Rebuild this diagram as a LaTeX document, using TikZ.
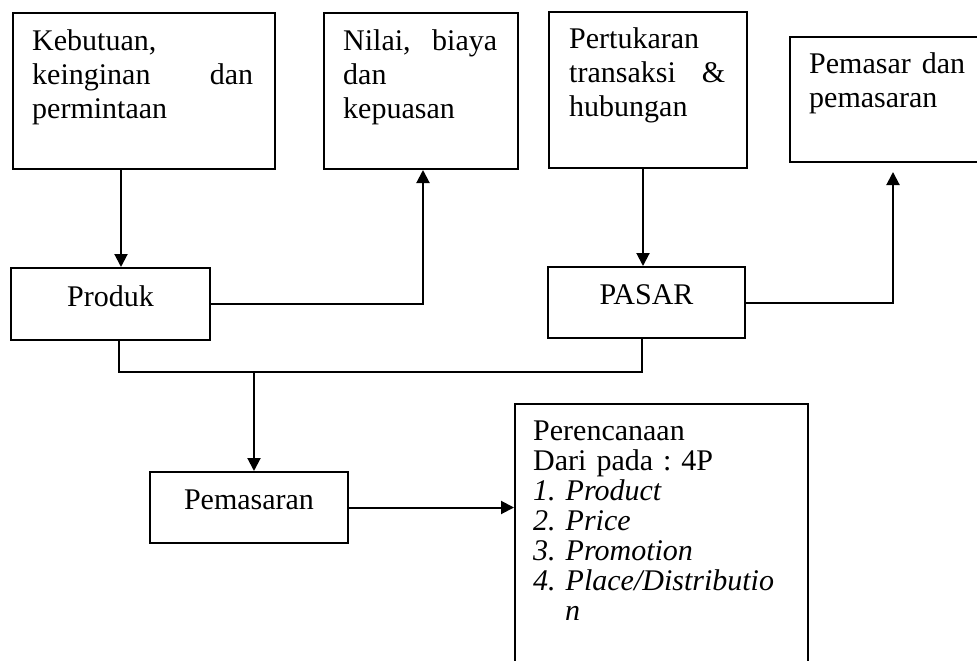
\documentclass[tikz,border=0pt]{standalone}
\usepackage{fontspec}
\setmainfont{Liberation Serif}
\usetikzlibrary{arrows.meta}
\frenchspacing
\begin{document}
\begin{tikzpicture}[x=1pt,y=-1pt,
  box/.style={draw, line width=2pt, rectangle, inner sep=0pt, anchor=north west},
  txt/.style={inner sep=0pt, anchor=north west, align=left, font=\fontsize{30}{34}\selectfont\frenchspacing},
  lbl/.style={box, font=\fontsize{30}{34}\selectfont, text height=21pt, text depth=17pt},
  conn/.style={line width=2pt},
  arr/.style={conn, -{Triangle[length=13pt,width=13pt]}}]
\useasboundingbox (0,0) rectangle (977,661);
\clip (0,0) rectangle (977,661);
% boxes
\node[box, minimum width=262pt, minimum height=156pt] (b1) at (12,12) {};
\node[box, minimum width=194pt, minimum height=156pt] (b2) at (323,12) {};
\node[box, minimum width=198pt, minimum height=156pt] (b3) at (548,11) {};
\node[box, minimum width=230pt, minimum height=125pt] (b4) at (789,36) {};
\node[lbl, minimum width=199pt, minimum height=72pt] (produk) at (10,267) {Produk};
\node[lbl, minimum width=197pt, minimum height=71pt] (pasar) at (547,266) {PASAR};
\node[lbl, minimum width=198pt, minimum height=71pt] (pemasaran) at (149,471) {Pemasaran};
\node[box, minimum width=293pt, minimum height=300pt] (plan) at (514,403) {};
% texts
\node[txt, text width=221pt] (t1) at (32,26.2) {\strut Kebutuan,\\ keinginan\hfill dan\\ permintaan};
\node[txt, text width=154pt] (t2) at (343,26.2) {\strut Nilai,\hfill biaya\\ dan\\ kepuasan};
\node[txt, text width=156pt] (t3) at (569,24.2) {\strut Pertukaran\\ transaksi\hfill \&\\ hubungan};
\node[txt, text width=156pt] (t4) at (809,49.2) {\strut Pemasar\hfill dan\\ pemasaran};
\node[txt, font=\fontsize{30}{30}\selectfont\frenchspacing, text width=270pt] (t5) at (533,419)
  {\strut Perencanaan\\ Dari pada : 4P\\ \textit{1. Product}\\ \textit{2. Price}\\
   \textit{3. Promotion}\\ \textit{4. Place/Distributio}\\ \hspace*{32pt}\textit{n}};
% connectors
\coordinate (xa) at (121,0);
\coordinate (xb) at (423,0);
\coordinate (xc) at (643,0);
\coordinate (xd) at (893,0);
\coordinate (xe) at (119,0);
\coordinate (xf) at (642,0);
\coordinate (xg) at (254,0);
\coordinate (yj) at (0,372);
\draw[arr] (xa |- b1.south) -- (xa |- produk.north);
\draw[arr] (produk.east) -| (xb |- b2.south);
\draw[arr] (xc |- b3.south) -- (xc |- pasar.north);
\draw[arr, shorten >=9pt] (pasar.east) -| (xd |- b4.south);
\draw[conn] (xe |- produk.south) |- (xf |- yj) -- (xf |- pasar.south);
\draw[arr] (xg |- yj) -- (xg |- pemasaran.north);
\draw[arr] (pemasaran.east) -- (pemasaran.east -| plan.west);
\end{tikzpicture}
\end{document}
